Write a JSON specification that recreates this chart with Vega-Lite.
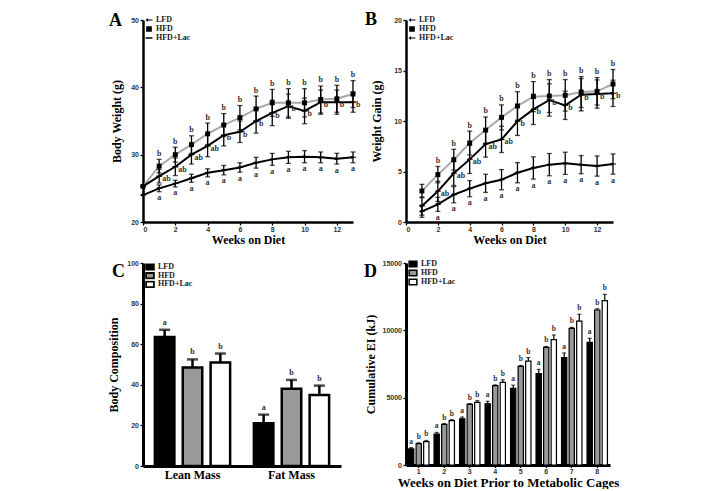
{
  "$schema": "https://vega.github.io/schema/vega-lite/v6.json",
  "background": "white",
  "padding": {"left": 107, "top": 11, "right": 5, "bottom": 0},
  "bounds": "flush",
  "columns": 2,
  "spacing": {"row": 41, "column": 53},
  "resolve": {
    "scale": {"x": "independent", "y": "independent", "xOffset": "independent", "shape": "independent", "fill": "independent"},
    "legend": {"shape": "independent", "fill": "independent"}
  },
  "datasets": {
    "wt": [
      {"g": "LFD", "w": 0, "m": 24.0, "lo": null, "hi": null, "l": ""},
      {"g": "LFD", "w": 1, "m": 25.0, "lo": 24.5, "hi": 25.5, "l": "a"},
      {"g": "LFD", "w": 2, "m": 25.7, "lo": 25.2, "hi": 26.2, "l": "a"},
      {"g": "LFD", "w": 3, "m": 26.5, "lo": 25.9, "hi": 27.1, "l": "a"},
      {"g": "LFD", "w": 4, "m": 27.3, "lo": 26.7, "hi": 27.9, "l": "a"},
      {"g": "LFD", "w": 5, "m": 27.7, "lo": 27.0, "hi": 28.4, "l": "a"},
      {"g": "LFD", "w": 6, "m": 28.1, "lo": 27.4, "hi": 28.8, "l": "a"},
      {"g": "LFD", "w": 7, "m": 28.8, "lo": 28.0, "hi": 29.6, "l": "a"},
      {"g": "LFD", "w": 8, "m": 29.3, "lo": 28.4, "hi": 30.2, "l": "a"},
      {"g": "LFD", "w": 9, "m": 29.6, "lo": 28.7, "hi": 30.5, "l": "a"},
      {"g": "LFD", "w": 10, "m": 29.7, "lo": 28.8, "hi": 30.6, "l": "a"},
      {"g": "LFD", "w": 11, "m": 29.6, "lo": 28.8, "hi": 30.4, "l": "a"},
      {"g": "LFD", "w": 12, "m": 29.4, "lo": 28.6, "hi": 30.2, "l": "a"},
      {"g": "LFD", "w": 13, "m": 29.6, "lo": 28.8, "hi": 30.4, "l": "a"},
      {"g": "HFD", "w": 0, "m": 25.3, "lo": null, "hi": null, "l": ""},
      {"g": "HFD", "w": 1, "m": 28.3, "lo": 27.3, "hi": 29.3, "l": "b"},
      {"g": "HFD", "w": 2, "m": 30.0, "lo": 28.9, "hi": 31.1, "l": "b"},
      {"g": "HFD", "w": 3, "m": 31.5, "lo": 30.2, "hi": 32.8, "l": "b"},
      {"g": "HFD", "w": 4, "m": 33.1, "lo": 31.5, "hi": 34.7, "l": "b"},
      {"g": "HFD", "w": 5, "m": 34.4, "lo": 32.7, "hi": 36.1, "l": "b"},
      {"g": "HFD", "w": 6, "m": 35.5, "lo": 33.7, "hi": 37.3, "l": "b"},
      {"g": "HFD", "w": 7, "m": 36.8, "lo": 34.9, "hi": 38.7, "l": "b"},
      {"g": "HFD", "w": 8, "m": 37.7, "lo": 35.7, "hi": 39.7, "l": "b"},
      {"g": "HFD", "w": 9, "m": 37.7, "lo": 35.6, "hi": 39.8, "l": "b"},
      {"g": "HFD", "w": 10, "m": 37.7, "lo": 35.6, "hi": 39.8, "l": "b"},
      {"g": "HFD", "w": 11, "m": 38.2, "lo": 36.2, "hi": 40.2, "l": "b"},
      {"g": "HFD", "w": 12, "m": 38.3, "lo": 36.3, "hi": 40.3, "l": "b"},
      {"g": "HFD", "w": 13, "m": 39.0, "lo": 37.0, "hi": 41.0, "l": "b"},
      {"g": "HFD+Lac", "w": 0, "m": 25.3, "lo": null, "hi": null, "l": ""},
      {"g": "HFD+Lac", "w": 1, "m": 26.8, "lo": 25.8, "hi": 27.8, "l": "ab"},
      {"g": "HFD+Lac", "w": 2, "m": 28.2, "lo": 26.9, "hi": 29.5, "l": "ab"},
      {"g": "HFD+Lac", "w": 3, "m": 30.0, "lo": 28.6, "hi": 31.4, "l": "ab"},
      {"g": "HFD+Lac", "w": 4, "m": 31.3, "lo": 29.7, "hi": 32.9, "l": "ab"},
      {"g": "HFD+Lac", "w": 5, "m": 32.9, "lo": 31.3, "hi": 34.5, "l": "b"},
      {"g": "HFD+Lac", "w": 6, "m": 33.4, "lo": 31.8, "hi": 35.0, "l": "b"},
      {"g": "HFD+Lac", "w": 7, "m": 35.0, "lo": 33.2, "hi": 36.8, "l": "b"},
      {"g": "HFD+Lac", "w": 8, "m": 36.2, "lo": 34.3, "hi": 38.1, "l": "b"},
      {"g": "HFD+Lac", "w": 9, "m": 37.2, "lo": 35.4, "hi": 39.0, "l": "b"},
      {"g": "HFD+Lac", "w": 10, "m": 36.5, "lo": 34.6, "hi": 38.4, "l": "b"},
      {"g": "HFD+Lac", "w": 11, "m": 37.8, "lo": 36.0, "hi": 39.6, "l": "b"},
      {"g": "HFD+Lac", "w": 12, "m": 37.8, "lo": 36.0, "hi": 39.6, "l": "b"},
      {"g": "HFD+Lac", "w": 13, "m": 37.8, "lo": 36.3, "hi": 39.3, "l": "b"}
    ],
    "gain": [
      {"g": "LFD", "w": 1, "m": 1.06, "lo": 0.46, "hi": 1.66, "l": ""},
      {"g": "LFD", "w": 2, "m": 1.75, "lo": 1.05, "hi": 2.45, "l": "a"},
      {"g": "LFD", "w": 3, "m": 2.7, "lo": 1.9, "hi": 3.5, "l": "a"},
      {"g": "LFD", "w": 4, "m": 3.3, "lo": 2.5, "hi": 4.1, "l": "a"},
      {"g": "LFD", "w": 5, "m": 3.83, "lo": 2.93, "hi": 4.73, "l": "a"},
      {"g": "LFD", "w": 6, "m": 4.19, "lo": 3.19, "hi": 5.19, "l": "a"},
      {"g": "LFD", "w": 7, "m": 4.88, "lo": 3.88, "hi": 5.88, "l": "a"},
      {"g": "LFD", "w": 8, "m": 5.35, "lo": 4.25, "hi": 6.45, "l": "a"},
      {"g": "LFD", "w": 9, "m": 5.68, "lo": 4.58, "hi": 6.78, "l": "a"},
      {"g": "LFD", "w": 10, "m": 5.81, "lo": 4.71, "hi": 6.91, "l": "a"},
      {"g": "LFD", "w": 11, "m": 5.68, "lo": 4.78, "hi": 6.58, "l": "a"},
      {"g": "LFD", "w": 12, "m": 5.54, "lo": 4.54, "hi": 6.54, "l": "a"},
      {"g": "LFD", "w": 13, "m": 5.74, "lo": 4.74, "hi": 6.74, "l": "a"},
      {"g": "HFD", "w": 1, "m": 3.07, "lo": 2.41, "hi": 3.73, "l": ""},
      {"g": "HFD", "w": 2, "m": 4.69, "lo": 3.88, "hi": 5.5, "l": "b"},
      {"g": "HFD", "w": 3, "m": 6.17, "lo": 5.14, "hi": 7.2, "l": "b"},
      {"g": "HFD", "w": 4, "m": 7.82, "lo": 6.64, "hi": 9.0, "l": "b"},
      {"g": "HFD", "w": 5, "m": 9.1, "lo": 7.8, "hi": 10.4, "l": "b"},
      {"g": "HFD", "w": 6, "m": 10.36, "lo": 9.12, "hi": 11.6, "l": "b"},
      {"g": "HFD", "w": 7, "m": 11.49, "lo": 10.08, "hi": 12.9, "l": "b"},
      {"g": "HFD", "w": 8, "m": 12.41, "lo": 10.92, "hi": 13.9, "l": "b"},
      {"g": "HFD", "w": 9, "m": 12.47, "lo": 10.84, "hi": 14.1, "l": "b"},
      {"g": "HFD", "w": 10, "m": 12.54, "lo": 10.98, "hi": 14.1, "l": "b"},
      {"g": "HFD", "w": 11, "m": 12.87, "lo": 11.34, "hi": 14.4, "l": "b"},
      {"g": "HFD", "w": 12, "m": 12.94, "lo": 11.58, "hi": 14.3, "l": "b"},
      {"g": "HFD", "w": 13, "m": 13.66, "lo": 12.22, "hi": 15.1, "l": "b"},
      {"g": "HFD+Lac", "w": 1, "m": 1.58, "lo": 0.68, "hi": 2.48, "l": ""},
      {"g": "HFD+Lac", "w": 2, "m": 3.04, "lo": 2.04, "hi": 4.04, "l": "ab"},
      {"g": "HFD+Lac", "w": 3, "m": 4.82, "lo": 3.62, "hi": 6.02, "l": "ab"},
      {"g": "HFD+Lac", "w": 4, "m": 6.2, "lo": 4.8, "hi": 7.6, "l": "ab"},
      {"g": "HFD+Lac", "w": 5, "m": 7.72, "lo": 6.42, "hi": 9.02, "l": "ab"},
      {"g": "HFD+Lac", "w": 6, "m": 8.18, "lo": 6.88, "hi": 9.48, "l": "ab"},
      {"g": "HFD+Lac", "w": 7, "m": 9.97, "lo": 8.57, "hi": 11.37, "l": "b"},
      {"g": "HFD+Lac", "w": 8, "m": 11.15, "lo": 9.65, "hi": 12.65, "l": "b"},
      {"g": "HFD+Lac", "w": 9, "m": 12.08, "lo": 10.48, "hi": 13.68, "l": "b"},
      {"g": "HFD+Lac", "w": 10, "m": 11.55, "lo": 10.15, "hi": 12.95, "l": "b"},
      {"g": "HFD+Lac", "w": 11, "m": 12.6, "lo": 11.0, "hi": 14.2, "l": "b"},
      {"g": "HFD+Lac", "w": 12, "m": 12.67, "lo": 11.27, "hi": 14.07, "l": "b"},
      {"g": "HFD+Lac", "w": 13, "m": 12.74, "lo": 11.44, "hi": 14.04, "l": "b"}
    ],
    "comp": [
      {"g": "LFD", "c": "Lean Mass", "m": 63.5, "hi": 67.1, "l": "a"},
      {"g": "HFD", "c": "Lean Mass", "m": 48.5, "hi": 52.5, "l": "b"},
      {"g": "HFD+Lac", "c": "Lean Mass", "m": 51.0, "hi": 55.4, "l": "b"},
      {"g": "LFD", "c": "Fat Mass", "m": 21.0, "hi": 25.3, "l": "a"},
      {"g": "HFD", "c": "Fat Mass", "m": 38.0, "hi": 42.4, "l": "b"},
      {"g": "HFD+Lac", "c": "Fat Mass", "m": 35.0, "hi": 39.6, "l": "b"}
    ],
    "ei": [
      {"g": "LFD", "w": "1", "m": 1190, "hi": 1290, "l": "a"},
      {"g": "HFD", "w": "1", "m": 1580, "hi": 1650, "l": "b"},
      {"g": "HFD+Lac", "w": "1", "m": 1730, "hi": 1820, "l": "b"},
      {"g": "LFD", "w": "2", "m": 2300, "hi": 2420, "l": "a"},
      {"g": "HFD", "w": "2", "m": 3020, "hi": 3080, "l": "b"},
      {"g": "HFD+Lac", "w": "2", "m": 3290, "hi": 3370, "l": "b"},
      {"g": "LFD", "w": "3", "m": 3420, "hi": 3560, "l": "a"},
      {"g": "HFD", "w": "3", "m": 4500, "hi": 4560, "l": "b"},
      {"g": "HFD+Lac", "w": "3", "m": 4650, "hi": 4780, "l": "b"},
      {"g": "LFD", "w": "4", "m": 4550, "hi": 4730, "l": "a"},
      {"g": "HFD", "w": "4", "m": 5890, "hi": 5950, "l": "b"},
      {"g": "HFD+Lac", "w": "4", "m": 6140, "hi": 6330, "l": "b"},
      {"g": "LFD", "w": "5", "m": 5690, "hi": 5930, "l": "a"},
      {"g": "HFD", "w": "5", "m": 7330, "hi": 7390, "l": "b"},
      {"g": "HFD+Lac", "w": "5", "m": 7720, "hi": 7980, "l": "b"},
      {"g": "LFD", "w": "6", "m": 6780, "hi": 7100, "l": "a"},
      {"g": "HFD", "w": "6", "m": 8740, "hi": 8800, "l": "b"},
      {"g": "HFD+Lac", "w": "6", "m": 9310, "hi": 9650, "l": "b"},
      {"g": "LFD", "w": "7", "m": 7970, "hi": 8320, "l": "a"},
      {"g": "HFD", "w": "7", "m": 10150, "hi": 10220, "l": "b"},
      {"g": "HFD+Lac", "w": "7", "m": 10690, "hi": 11190, "l": "b"},
      {"g": "LFD", "w": "8", "m": 9110, "hi": 9410, "l": "a"},
      {"g": "HFD", "w": "8", "m": 11510, "hi": 11600, "l": "b"},
      {"g": "HFD+Lac", "w": "8", "m": 12200, "hi": 12670, "l": "b"}
    ]
  },
  "concat": [
    {
      "width": 210,
      "height": 202,
      "title": {"text": "A", "anchor": "start", "frame": "group", "dx": -34, "dy": 23, "offset": -5, "baseline": "alphabetic"},
      "data": {"name": "wt"},
      "encoding": {
        "x": {"field": "w", "type": "quantitative", "title": "Weeks on Diet", "scale": {"domain": [0, 13], "nice": false},
              "axis": {"values": [0, 2, 4, 6, 8, 10, 12], "titlePadding": 1.5, "labelPadding": 0.5}},
        "y": {"field": "m", "type": "quantitative", "title": "Body Weight (g)", "scale": {"domain": [20, 50], "nice": false},
              "axis": {"values": [20, 30, 40, 50], "titlePadding": 7}}
      },
      "layer": [
        {
          "transform": [{"filter": "datum.g === 'HFD'"}],
          "mark": {"type": "line", "strokeWidth": 2, "color": "#a9a9a9"},
          "encoding": {}
        },
        {
          "transform": [{"filter": "datum.g !== 'HFD'"}],
          "mark": {"type": "line", "strokeWidth": 2, "color": "black"},
          "encoding": {"detail": {"field": "g"}}
        },
        {
          "mark": {"type": "errorbar", "color": "black", "thickness": 1.3, "ticks": {"size": 5, "thickness": 1.3}},
          "encoding": {"y": {"field": "lo", "type": "quantitative", "title": "Body Weight (g)"}, "y2": {"field": "hi"}, "detail": {"field": "g"}}
        },
        {
          "mark": {"type": "point", "filled": true, "color": "black", "opacity": 1, "size": 30},
          "encoding": {
            "shape": {"field": "g", "type": "nominal", "scale": {"domain": ["LFD", "HFD", "HFD+Lac"], "range": ["M-1.1,0L-0.3,-0.6L-0.3,-0.18L1.1,-0.18L1.1,0.18L-0.3,0.18L-0.3,0.6Z", "M-0.9,-0.9H0.9V0.9H-0.9Z", "M-1.1,-0.25H1.1V0.25H-1.1Z"]},
                      "legend": {"orient": "none", "legendX": 2, "legendY": -4, "title": null, "symbolSize": 40, "clipHeight": 8, "rowPadding": 1, "encode": {"symbols": {"update": {"fill": {"signal": "datum.value === 'HFD+Lac' ? '#999' : 'black'"}}}}}}
          }
        },
        {
          "transform": [{"filter": "datum.g === 'HFD'"}],
          "mark": {"type": "text", "baseline": "bottom", "dy": -1.5, "color": "#333"},
          "encoding": {"y": {"field": "hi", "type": "quantitative", "title": "Body Weight (g)"}, "text": {"field": "l"}}
        },
        {
          "transform": [{"filter": "datum.g === 'HFD+Lac'"}],
          "mark": {"type": "text", "align": "left", "baseline": "middle", "dx": 3, "dy": 3, "color": "#333"},
          "encoding": {"text": {"field": "l"}}
        },
        {
          "transform": [{"filter": "datum.g === 'LFD'"}],
          "mark": {"type": "text", "baseline": "top", "dy": 2.5, "color": "#333"},
          "encoding": {"y": {"field": "lo", "type": "quantitative", "title": "Body Weight (g)"}, "text": {"field": "l"}}
        }
      ]
    },
    {
      "width": 207,
      "height": 202,
      "title": {"text": "B", "anchor": "start", "frame": "group", "dx": -41, "dy": 22, "offset": -5, "baseline": "alphabetic"},
      "data": {"name": "gain"},
      "encoding": {
        "x": {"field": "w", "type": "quantitative", "title": "Weeks on Diet", "scale": {"domain": [0, 13], "nice": false},
              "axis": {"values": [0, 2, 4, 6, 8, 10, 12], "titlePadding": 1.5, "labelPadding": 0.5}},
        "y": {"field": "m", "type": "quantitative", "title": "Weight Gain (g)", "scale": {"domain": [0, 20], "nice": false},
              "axis": {"values": [0, 5, 10, 15, 20], "titlePadding": 10}}
      },
      "layer": [
        {
          "transform": [{"filter": "datum.g === 'HFD'"}],
          "mark": {"type": "line", "strokeWidth": 2, "color": "#a9a9a9"},
          "encoding": {}
        },
        {
          "transform": [{"filter": "datum.g !== 'HFD'"}],
          "mark": {"type": "line", "strokeWidth": 2, "color": "black"},
          "encoding": {"detail": {"field": "g"}}
        },
        {
          "mark": {"type": "errorbar", "color": "black", "thickness": 1.3, "ticks": {"size": 5, "thickness": 1.3}},
          "encoding": {"y": {"field": "lo", "type": "quantitative", "title": "Weight Gain (g)"}, "y2": {"field": "hi"}, "detail": {"field": "g"}}
        },
        {
          "mark": {"type": "point", "filled": true, "color": "black", "opacity": 1, "size": 30},
          "encoding": {
            "shape": {"field": "g", "type": "nominal", "scale": {"domain": ["LFD", "HFD", "HFD+Lac"], "range": ["M-1.1,0L-0.3,-0.6L-0.3,-0.18L1.1,-0.18L1.1,0.18L-0.3,0.18L-0.3,0.6Z", "M-0.9,-0.9H0.9V0.9H-0.9Z", "M-1.1,0L-0.3,-0.6L-0.3,-0.18L1.1,-0.18L1.1,0.18L-0.3,0.18L-0.3,0.6Z"]},
                      "legend": {"orient": "none", "legendX": 2, "legendY": -4, "title": null, "symbolSize": 40, "clipHeight": 8, "rowPadding": 1}}
          }
        },
        {
          "transform": [{"filter": "datum.g === 'HFD'"}],
          "mark": {"type": "text", "baseline": "bottom", "dy": -1.5, "color": "#333"},
          "encoding": {"y": {"field": "hi", "type": "quantitative", "title": "Weight Gain (g)"}, "text": {"field": "l"}}
        },
        {
          "transform": [{"filter": "datum.g === 'HFD+Lac'"}],
          "mark": {"type": "text", "align": "left", "baseline": "middle", "dx": 3, "dy": 3, "color": "#333"},
          "encoding": {"text": {"field": "l"}}
        },
        {
          "transform": [{"filter": "datum.g === 'LFD'"}],
          "mark": {"type": "text", "baseline": "top", "dy": 2.5, "color": "#333"},
          "encoding": {"y": {"field": "lo", "type": "quantitative", "title": "Weight Gain (g)"}, "text": {"field": "l"}}
        }
      ]
    },
    {
      "width": 198,
      "height": 203,
      "title": {"text": "C", "anchor": "start", "frame": "group", "dx": -31, "dy": 27, "offset": -9, "baseline": "alphabetic"},
      "data": {"name": "comp"},
      "encoding": {
        "x": {"field": "c", "type": "nominal", "sort": ["Lean Mass", "Fat Mass"], "title": null,
              "scale": {"paddingInner": 0.24, "paddingOuter": 0.12},
              "axis": {"labelFont": "Liberation Serif", "labelFontSize": 12, "labelColor": "black", "labelAngle": 0, "ticks": false, "labelPadding": 3, "domainWidth": 3}},
        "xOffset": {"field": "g", "type": "nominal", "sort": ["LFD", "HFD", "HFD+Lac"], "scale": {"paddingInner": 0.3, "paddingOuter": 0}}
      },
      "layer": [
        {
          "mark": {"type": "bar", "stroke": "black", "strokeWidth": 2.5},
          "encoding": {
            "y": {"field": "m", "type": "quantitative", "title": "Body Composition", "scale": {"domain": [0, 100], "nice": false},
                  "axis": {"values": [0, 20, 40, 60, 80, 100], "titlePadding": 6, "domainWidth": 3}},
            "fill": {"field": "g", "type": "nominal", "scale": {"domain": ["LFD", "HFD", "HFD+Lac"], "range": ["black", "#999999", "white"]},
                     "legend": {"orient": "none", "legendX": 2, "legendY": 0, "title": null, "symbolType": "M-1,-0.7H1V0.7H-1Z", "symbolSize": 60, "clipHeight": 8, "rowPadding": 0.7, "symbolStrokeColor": "black", "symbolStrokeWidth": 1.8}}
          }
        },
        {
          "mark": {"type": "rule", "strokeWidth": 2.5, "color": "black"},
          "encoding": {"y": {"field": "m", "type": "quantitative", "title": "Body Composition"}, "y2": {"field": "hi"}}
        },
        {
          "mark": {"type": "tick", "thickness": 2.5, "size": 11, "color": "black", "orient": "horizontal"},
          "encoding": {"y": {"field": "hi", "type": "quantitative", "title": "Body Composition"}}
        },
        {
          "mark": {"type": "text", "baseline": "bottom", "dy": -3, "color": "#333"},
          "encoding": {"y": {"field": "hi", "type": "quantitative", "title": "Body Composition"}, "text": {"field": "l"}}
        }
      ]
    },
    {
      "width": 204,
      "height": 202,
      "title": {"text": "D", "anchor": "start", "frame": "group", "dx": -42, "dy": 27, "offset": -9, "baseline": "alphabetic"},
      "data": {"name": "ei"},
      "encoding": {
        "x": {"field": "w", "type": "nominal", "title": "Weeks on Diet Prior to Metabolic Cages",
              "scale": {"paddingInner": 0.2, "paddingOuter": 0.1},
              "axis": {"titleFontSize": 13, "labelAngle": 0, "titlePadding": 1.5, "labelPadding": 0, "tickSize": 2.5, "domainWidth": 3}},
        "xOffset": {"field": "g", "type": "nominal", "sort": ["LFD", "HFD", "HFD+Lac"], "scale": {"paddingInner": 0.3, "paddingOuter": 0}}
      },
      "layer": [
        {
          "mark": {"type": "bar", "stroke": "black", "strokeWidth": 1.2},
          "encoding": {
            "y": {"field": "m", "type": "quantitative", "title": "Cumulative EI (kJ)", "scale": {"domain": [0, 15000], "nice": false},
                  "axis": {"values": [0, 5000, 10000, 15000], "format": "d", "titlePadding": 5, "domainWidth": 3}},
            "fill": {"field": "g", "type": "nominal", "scale": {"domain": ["LFD", "HFD", "HFD+Lac"], "range": ["black", "#999999", "white"]},
                     "legend": {"orient": "none", "legendX": 2, "legendY": -3, "title": null, "symbolType": "M-1,-0.7H1V0.7H-1Z", "symbolSize": 60, "clipHeight": 8, "rowPadding": 1, "symbolStrokeColor": "black", "symbolStrokeWidth": 1.5}}
          }
        },
        {
          "mark": {"type": "rule", "strokeWidth": 1.2, "color": "black"},
          "encoding": {"y": {"field": "m", "type": "quantitative", "title": "Cumulative EI (kJ)"}, "y2": {"field": "hi"}}
        },
        {
          "mark": {"type": "tick", "thickness": 1.2, "size": 4, "color": "black", "orient": "horizontal"},
          "encoding": {"y": {"field": "hi", "type": "quantitative", "title": "Cumulative EI (kJ)"}}
        },
        {
          "mark": {"type": "text", "baseline": "bottom", "dy": -2, "fontSize": 7.5, "color": "#333"},
          "encoding": {"y": {"field": "hi", "type": "quantitative", "title": "Cumulative EI (kJ)"}, "text": {"field": "l"}}
        }
      ]
    }
  ],
  "config": {
    "font": "Liberation Serif",
    "view": {"stroke": null},
    "title": {"font": "Liberation Serif", "fontSize": 18, "fontWeight": "bold", "color": "black"},
    "axis": {"grid": false, "domainColor": "black", "domainWidth": 2.5, "tickColor": "black", "tickWidth": 1.3, "tickSize": 3,
             "labelFont": "Liberation Sans", "labelFontWeight": "bold", "labelFontSize": 7, "labelColor": "#333", "labelPadding": 1.5,
             "titleFont": "Liberation Serif", "titleFontWeight": "bold", "titleFontSize": 12, "titleColor": "black"},
    "legend": {"labelFont": "Liberation Serif", "labelFontWeight": "bold", "labelFontSize": 8, "labelColor": "#222", "labelOffset": 3, "padding": 0},
    "text": {"font": "Liberation Serif", "fontWeight": "bold", "fontSize": 8, "color": "#333"}
  }
}
